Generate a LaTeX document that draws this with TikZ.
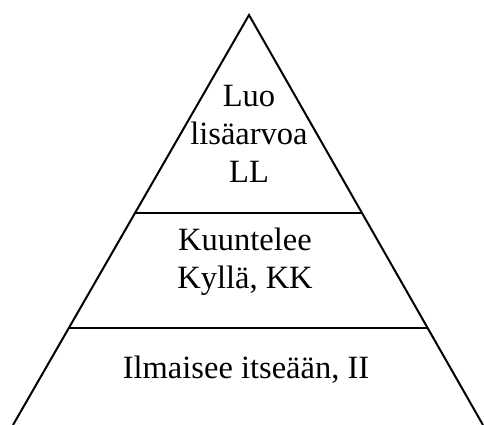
\documentclass[tikz,border=0pt]{standalone}
\usepackage{fontspec}
\setmainfont{Liberation Serif}
\usetikzlibrary{calc}

\tikzstyle{level} = [align=center, inner sep=0pt, font=\fontsize{32.5}{38}\selectfont]
\tikzstyle{edge} = [draw, line width=2pt]

\begin{document}
\begin{tikzpicture}[x=1pt, y=-1pt]
        \useasboundingbox (0,0) rectangle (484,425);
        % corners of the pyramid
        \coordinate (apex) at (249,15);
        \coordinate (bl) at (13,425);
        \coordinate (br) at (483,425);
        % ends of the dividing lines
        \coordinate (t1l) at ($(apex)!0.483!(bl)$);
        \coordinate (t1r) at ($(apex)!0.483!(br)$);
        \coordinate (t2l) at ($(apex)!0.763!(bl)$);
        \coordinate (t2r) at ($(apex)!0.763!(br)$);
        \draw[edge] (bl) -- (apex) -- (br);
        \draw[edge] (t1l) -- (t1r);
        \draw[edge] (t2l) -- (t2r);
        % labels of the levels
        \node (ll) at (249,134) [level] {Luo\\lisäarvoa\\LL};
        \node (kk) at (245,262) [level] {Kuuntelee\\Kyllä, KK};
        \node (ii) at (246,370) [level] {Ilmaisee itseään, II};
    \end{tikzpicture}
\end{document}
